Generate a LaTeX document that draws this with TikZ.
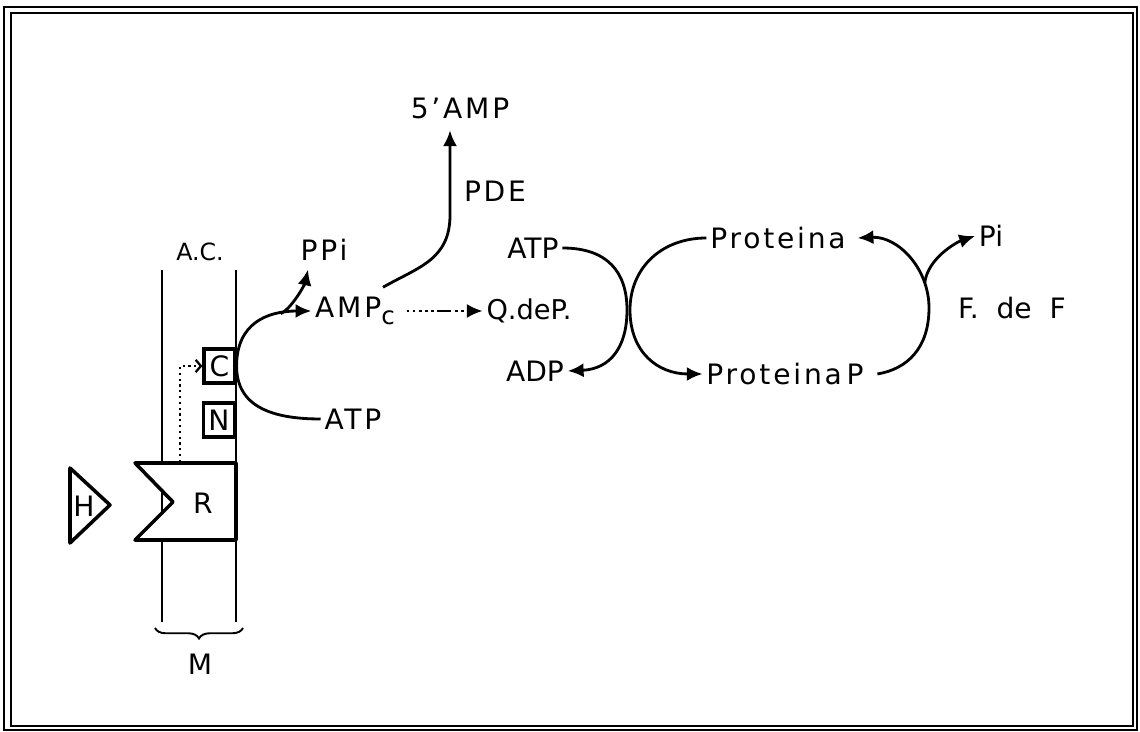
\documentclass[tikz,border=0pt]{standalone}
\usepackage{fontspec}
\setmainfont{DejaVu Sans}
\newfontfamily\widefont[LetterSpace=10]{DejaVu Sans}
\usetikzlibrary{arrows.meta, calc, decorations.pathreplacing}

\tikzset{
  lbl/.style={font=\fontsize{16}{19}\selectfont, inner sep=2pt},
  widelbl/.style={font=\fontsize{16}{19}\selectfont\widefont, inner sep=2pt},
  aclbl/.style={font=\fontsize{13.5}{16}\selectfont, inner sep=2pt},
  flow/.style={line width=1.6pt, -{Latex[length=9pt,width=8pt]}},
  membline/.style={line width=1.4pt},
  subunit/.style={draw, line width=1.8pt, fill=white, inner sep=0pt,
    minimum width=0.62cm, minimum height=0.68cm, font=\fontsize{16}{19}\selectfont},
  signal/.style={line width=1.4pt, -{Latex[length=9pt,width=8pt]},
    dash pattern=on 1.5pt off 2pt on 1.5pt off 2pt on 1.5pt off 2pt on 1.5pt off 2pt on 1.5pt off 2pt on 8pt off 2pt},
}

\begin{document}
\begin{tikzpicture}[x=0.02cm, y=-0.02cm]
\fill[white] (0,0) rectangle (1140,732);
\useasboundingbox (0,0) rectangle (1140,732);
% frame
\draw[line width=0.6pt] (4,7) rectangle (1137,730);
\draw[line width=1.4pt] (11,13) rectangle (1133,726);

% membrane with receptor and cyclase
\draw[membline] (162,270) -- (162,622);
\draw[membline] (236,270) -- (236,622);
\node[aclbl] (ac) at (200,252) {A.C.};
\draw[line width=2pt, fill=white, line join=round] (135,463) -- (236,463) -- (236,540) -- (135,540) -- (173,502) -- cycle;
\node[lbl] (rec) at (203,503) {R};
\draw[line width=2pt, line join=round] (70,468) -- (110,505) -- (70,543) -- cycle;
\node[lbl] (horm) at (84,506) {H};
\node[subunit] (cbox) at (219.5,366) {C};
\node[subunit] (nbox) at (219,420) {N};
\coordinate (rtop) at (180,462);
\draw[line width=1.3pt, dotted, -{Straight Barb[length=3pt,width=7pt]}] (rtop) |- (cbox.west);
\coordinate (mleft) at (155,628);
\coordinate (mright) at (243,628);
\draw[line width=1.1pt, decorate, decoration={brace, mirror, amplitude=6pt}] (mleft) -- (mright);
\node[lbl] (memb) at (200,664) {M};

% cyclase reaction
\node[widelbl] (atpb) at (353,419) {ATP};
\node[widelbl] (amp) at (355,311) {AMP\raisebox{-0.45ex}{\fontsize{14}{14}\selectfont c}};
\node[widelbl] (ppi) at (324,250) {PPi};
\node[widelbl] (samp) at (460,108) {5’AMP};
\node[widelbl] (pde) at (495,191) {PDE};
\node[lbl, font=\fontsize{15.5}{18}\selectfont] (qdp) at (529,311) {Q.deP.};
\coordinate (bend) at (450,215);

\draw[flow] (atpb.west) .. controls +(-50,0) and +(0,40) .. (cbox.east)
  .. controls +(0,-42) and +(-45,0) .. coordinate[pos=0.75] (jn) (amp.west);
\draw[flow] (jn) .. controls +(12,-6) and +(-3,14) .. ($(ppi.south)+(-16,5)$);
\draw[flow] ($(amp.north)+(28,-6)$) .. controls +(35,-20) and +(0,45) .. (bend)
  -- ($(samp.south)+(-10,8)$);
\draw[signal] ($(amp.east)+(8,0)$) -- (qdp.west);

% phosphorylation cycle
\node[lbl] (atpa) at (533,248) {ATP};
\node[lbl] (adp) at (535,371) {ADP};
\node[widelbl] (prot) at (778,238) {Proteina};
\node[widelbl] (protp) at (785,374) {Proteina\,P};
\node[lbl] (pi) at (991,236) {Pi};
\node[lbl] (fdf) at (1012,308) {F.\ \ de\ \ F};
\coordinate (kin) at (627,310);
\coordinate (kout) at (630,310);
\coordinate (fos) at (929,308);

\draw[flow] (atpa.east) .. controls +(45,0) and +(0,-38) .. (kin)
  .. controls +(0,38) and +(42,-2) .. (adp.east);
\draw[flow] (prot.west) .. controls +(-45,0) and +(0,-42) .. (kout)
  .. controls +(0,42) and +(-45,0) .. (protp.west);
\draw[flow] ($(protp.east)+(10,0)$) .. controls +(30,-5) and +(0,40) .. (fos)
  .. controls +(0,-40) and +(40,-2) .. coordinate[pos=0.22] (jp) ($(prot.east)+(8,0)$);
\draw[flow] (jp) .. controls +(3,-25) and +(-18,6) .. (pi.west);
\end{tikzpicture}
\end{document}
